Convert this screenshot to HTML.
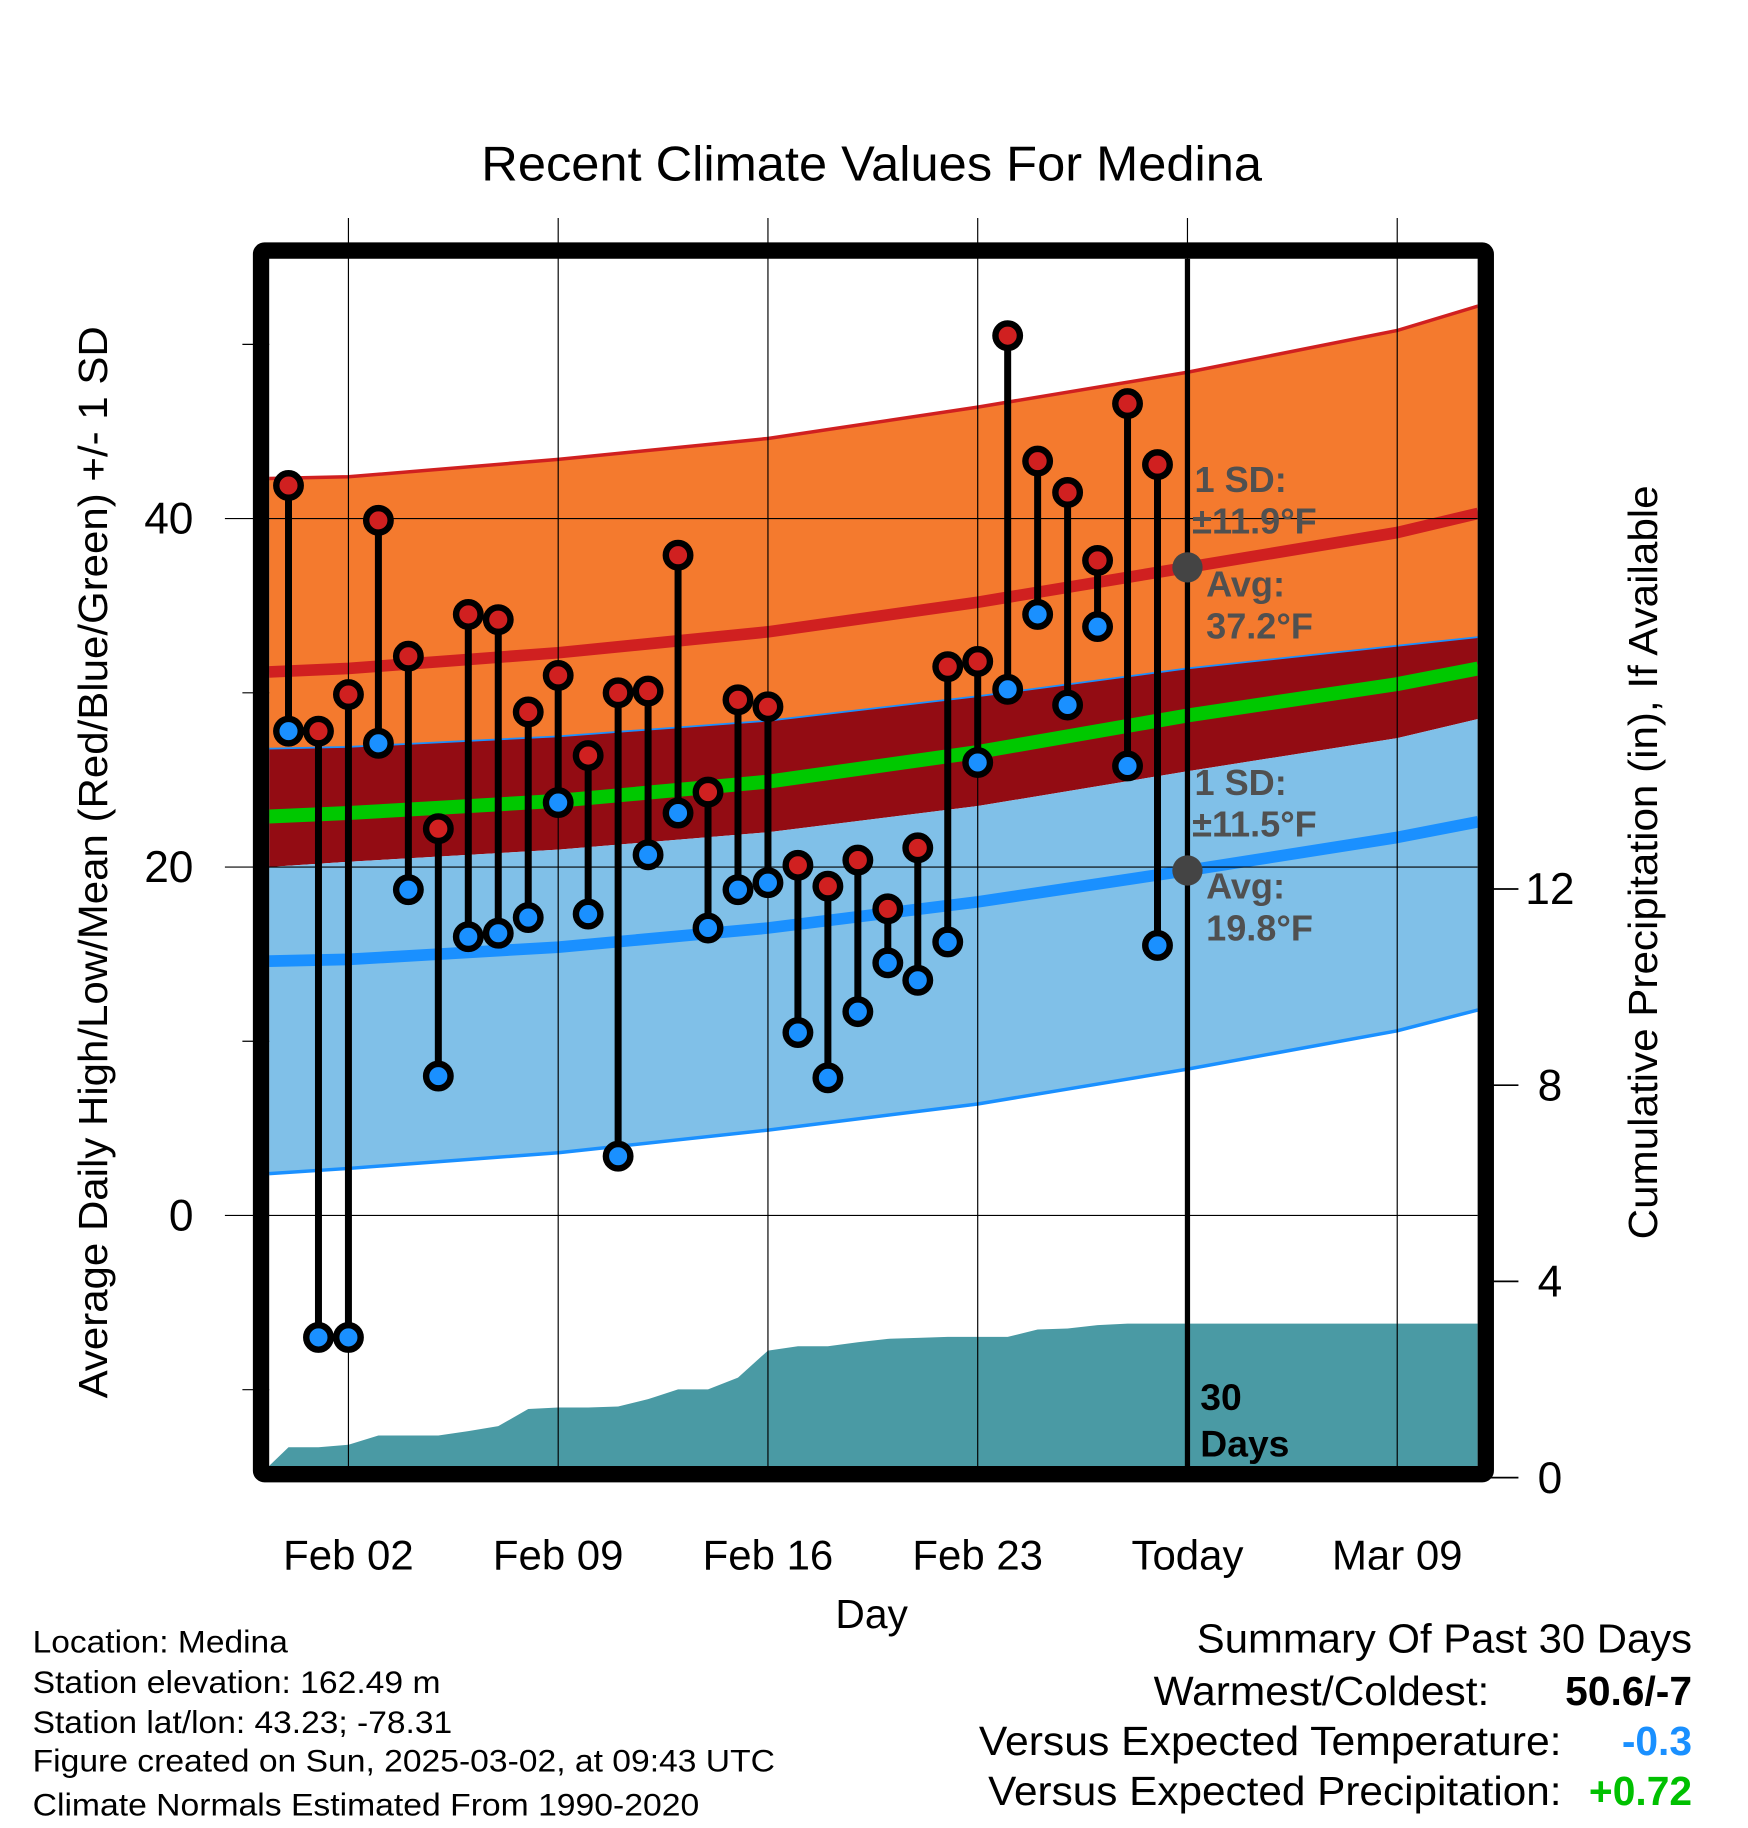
<!DOCTYPE html>
<html><head><meta charset="utf-8"><style>
html,body{margin:0;padding:0;background:#fff}
svg{display:block;font-family:"Liberation Sans",Arial,sans-serif}
</style></head><body>
<svg id="chart" width="1748" height="1828" viewBox="0 0 1500 1568.6" xmlns="http://www.w3.org/2000/svg">
<text x="748" y="155" font-size="42" text-anchor="middle" textLength="670" lengthAdjust="spacingAndGlyphs">Recent Climate Values For Medina</text>
<g id="plot"></g>
<text transform="translate(92,740) rotate(-90)" font-size="35" text-anchor="middle" textLength="920" lengthAdjust="spacingAndGlyphs">Average Daily High/Low/Mean (Red/Blue/Green) +/- 1 SD</text>
<text transform="translate(1422,740) rotate(-90)" font-size="35" text-anchor="middle" textLength="647" lengthAdjust="spacingAndGlyphs">Cumulative Precipitation (in), If Available</text>
<text x="748" y="1397" font-size="35" text-anchor="middle">Day</text>
<g font-size="27">
<text x="28" y="1418" textLength="219" lengthAdjust="spacingAndGlyphs">Location: Medina</text>
<text x="28" y="1453" textLength="350" lengthAdjust="spacingAndGlyphs">Station elevation: 162.49 m</text>
<text x="28" y="1487" textLength="360" lengthAdjust="spacingAndGlyphs">Station lat/lon: 43.23; -78.31</text>
<text x="28" y="1520" textLength="637" lengthAdjust="spacingAndGlyphs">Figure created on Sun, 2025-03-02, at 09:43 UTC</text>
<text x="28" y="1558" textLength="572" lengthAdjust="spacingAndGlyphs">Climate Normals Estimated From 1990-2020</text>
</g>
<g font-size="35">
<text x="1452" y="1418" text-anchor="end" textLength="425" lengthAdjust="spacingAndGlyphs">Summary Of Past 30 Days</text>
<text x="1278" y="1463" text-anchor="end" textLength="288" lengthAdjust="spacingAndGlyphs">Warmest/Coldest:</text>
<text x="1452" y="1463" text-anchor="end" font-weight="bold">50.6/-7</text>
<text x="1340" y="1506" text-anchor="end" textLength="500" lengthAdjust="spacingAndGlyphs">Versus Expected Temperature:</text>
<text x="1452" y="1506" text-anchor="end" font-weight="bold" fill="#1a90ff">-0.3</text>
<text x="1340" y="1549" text-anchor="end" textLength="492" lengthAdjust="spacingAndGlyphs">Versus Expected Precipitation:</text>
<text x="1452" y="1549" text-anchor="end" font-weight="bold" fill="#00c000">+0.72</text>
</g>
</svg>
<script>
const highs=[41.9,27.8,29.9,39.9,32.1,22.2,34.5,34.2,28.9,31.0,26.4,30.0,30.1,37.9,24.3,29.6,29.2,20.1,18.9,20.4,17.6,21.1,31.5,31.8,50.5,43.3,41.5,37.6,46.6,43.1];
const lows=[27.8,-7.0,-7.0,27.1,18.7,8.0,16.0,16.2,17.1,23.7,17.3,3.4,20.7,23.1,16.5,18.7,19.1,10.5,7.9,11.7,14.5,13.5,15.7,26.0,30.2,34.5,29.3,33.8,25.8,15.5];
const precip=[0.62,0.62,0.67,0.86,0.86,0.86,0.95,1.05,1.40,1.43,1.43,1.45,1.60,1.80,1.80,2.04,2.59,2.68,2.68,2.76,2.83,2.85,2.87,2.87,2.87,3.02,3.04,3.11,3.14,3.14];
const normDays=[-2.65,0,7,14,21,28,35,37.7];
const highUpper=[42.3,42.4,43.4,44.6,46.4,48.4,50.8,52.2];
const highMean=[31.2,31.4,32.3,33.5,35.2,37.2,39.2,40.3];
const highLower=[26.8,26.9,27.5,28.4,29.8,31.4,32.7,33.2];
const meanMean=[22.9,23.1,23.8,24.9,26.6,28.7,30.5,31.4];
const lowUpper=[20.0,20.3,21.0,22.0,23.5,25.5,27.4,28.5];
const lowMean=[14.6,14.7,15.4,16.5,18.0,19.8,21.7,22.6];
const lowLower=[2.4,2.7,3.6,4.9,6.4,8.4,10.6,11.8];
const xTickDays=[0,7,14,21,28,35];
const xTickLabels=["Feb 02","Feb 09","Feb 16","Feb 23","Today","Mar 09"];
const yTicks=[0,20,40];
const yMinor=[-10,10,30,50];
const pTicks=[0,4,8,12];

const NS="http://www.w3.org/2000/svg";
const L=231,R=1268,T=222,B=1258;
const X=d=>299+25.714*d;
const Y=v=>1043-14.95*v;
const P=p=>1268-42.1*p;
const g=document.getElementById('plot');
function mk(tag,attrs,parent){const e=document.createElementNS(NS,tag);for(const k in attrs)e.setAttribute(k,attrs[k]);(parent||g).appendChild(e);return e;}
const clip=mk('clipPath',{id:'pc'});mk('rect',{x:L,y:T,width:R-L,height:B-T},clip);
const inner=mk('g',{'clip-path':'url(#pc)'});


function pts(arr){return normDays.map((d,i)=>X(d)+','+Y(arr[i]));}
function band(top,bot,fill,name){const p=pts(top).concat(pts(bot).reverse());const e=mk('polygon',{points:p.join(' '),fill:fill},inner);

}
function line(arr,col,w,name){const e=mk('polyline',{points:pts(arr).join(' '),fill:'none',stroke:col,'stroke-width':w},inner);

}
band(highUpper,highLower,'#f47a2e','high-sd-band');
band(highLower,lowUpper,'#930c13','overlap-band');
band(lowUpper,lowLower,'#80c0e8','low-sd-band');
line(highUpper,'#d02020',3,'high-upper-line');
line(highLower,'#1a90ff',1.5,'high-lower-line');
line(lowLower,'#1a90ff',3,'low-lower-line');
line(highMean,'#d02020',10,'high-mean-line');
line(meanMean,'#00c800',12,'mean-line');
line(lowMean,'#1a90ff',10,'low-mean-line');
let pp=[X(-2.65)+','+B];
precip.forEach((v,i)=>pp.push(X(i-2)+','+P(v)));
pp.push(X(37.7)+','+P(precip[precip.length-1]));pp.push(X(37.7)+','+B);
const pa=mk('polygon',{points:pp.join(' '),fill:'#4a9aa4'},inner);


xTickDays.forEach((d,i)=>{const e=mk('line',{x1:X(d),x2:X(d),y1:187,y2:B,stroke:'#000','stroke-width':1});


const t=mk('text',{x:X(d),y:1347,'font-size':36,'text-anchor':'middle'});t.textContent=xTickLabels[i];

});
yTicks.forEach(v=>{const e=mk('line',{x1:193,x2:R,y1:Y(v),y2:Y(v),stroke:'#000','stroke-width':1});


const t=mk('text',{x:166,y:Y(v)+13,'font-size':38,'text-anchor':'end'});t.textContent=v;

});
yMinor.forEach(v=>{const e=mk('line',{x1:208,x2:L,y1:Y(v),y2:Y(v),stroke:'#000','stroke-width':1});

});
pTicks.forEach(v=>{const e=mk('line',{x1:1275,x2:1303,y1:P(v),y2:P(v),stroke:'#000','stroke-width':1.5});


const t=mk('text',{x:1330,y:P(v)+13,'font-size':38,'text-anchor':'middle'});t.textContent=v;

});
const tl=mk('line',{x1:X(28),x2:X(28),y1:T,y2:B,stroke:'#000','stroke-width':4.5});


highs.forEach((h,i)=>{const x=X(i-2);
const s=mk('line',{x1:x,x2:x,y1:Y(h),y2:Y(lows[i]),stroke:'#000','stroke-width':6});

});
highs.forEach((h,i)=>{const x=X(i-2);
const a=mk('circle',{cx:x,cy:Y(lows[i]),r:10.5,fill:'#1a90ff',stroke:'#000','stroke-width':5.5});


const b=mk('circle',{cx:x,cy:Y(h),r:10.5,fill:'#d02020',stroke:'#000','stroke-width':5.5});

});
const tx=X(28);
[[highMean[5]],[lowMean[5]]].forEach(v=>{const c=mk('circle',{cx:tx,cy:Y(v[0]),r:13,fill:'#444'});

});
function ann(x,y,s,name){const t=mk('text',{x:x,y:y,'font-size':31,'font-weight':'bold',fill:'#505050'});t.textContent=s;

}
ann(1025,422,'1 SD:','high-sd-label');ann(1023,458,'±11.9°F','high-sd-value');
ann(1035,512,'Avg:','high-avg-label');ann(1035,548,'37.2°F','high-avg-value');
ann(1025,682,'1 SD:','low-sd-label');ann(1023,718,'±11.5°F','low-sd-value');
ann(1035,771,'Avg:','low-avg-label');ann(1035,807,'19.8°F','low-avg-value');
const d1=mk('text',{x:1030,y:1210,'font-size':32,'font-weight':'bold'});d1.textContent='30';


const d2=mk('text',{x:1030,y:1250,'font-size':32,'font-weight':'bold'});d2.textContent='Days';


const fr=mk('rect',{x:224,y:215,width:1051,height:1050,fill:'none',stroke:'#000','stroke-width':14,rx:3});


</script>
</body></html>
